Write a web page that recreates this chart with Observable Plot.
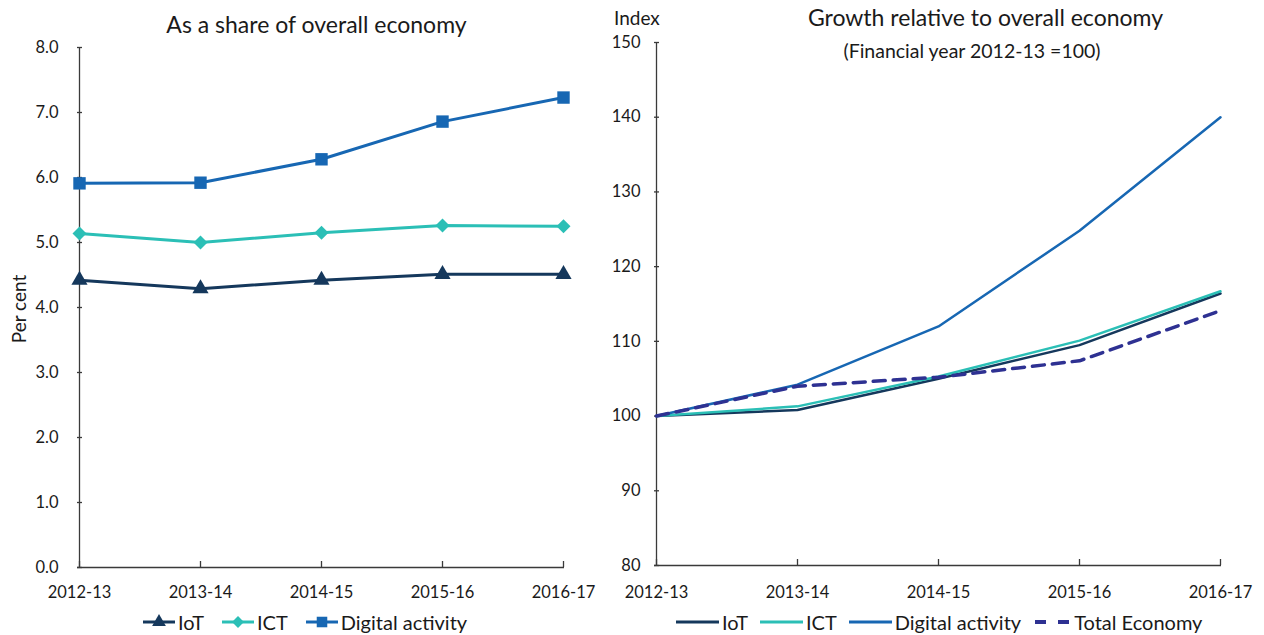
<!DOCTYPE html>
<html><head><meta charset="utf-8">
<script src="https://cdn.jsdelivr.net/npm/d3@7"></script>
<script src="https://cdn.jsdelivr.net/npm/@observablehq/plot@0.6"></script>
<style>
body{margin:0;background:#fff;font-family:Lato,"Open Sans",sans-serif;color:#1a1a1a;}
#wrap{position:relative;width:1264px;height:635px;overflow:hidden;background:#fff;}
.panel{position:absolute;top:0;}
.txt{position:absolute;white-space:nowrap;line-height:1;}
.legend{position:absolute;display:flex;align-items:center;font-size:20px;white-space:nowrap;line-height:1;}
.legend .item{display:flex;align-items:center;}
.legend svg{margin-right:3px;}
</style></head><body>
<div id="wrap">
  <div id="left" class="panel" style="left:0;width:620px"></div>
  <div id="right" class="panel" style="left:620px;width:644px"></div>
  <div class="txt" style="font-size:23px;top:13px;left:0;width:633px;text-align:center">As a share of overall economy</div>
  <div class="txt" style="font-size:23px;top:6px;left:620px;width:731px;text-align:center">Growth relative to overall economy</div>
  <div class="txt" style="font-size:19.5px;top:41px;left:620px;width:704px;text-align:center">(Financial year 2012-13 =100)</div>
  <div class="txt" style="font-size:19px;top:8px;left:614px">Index</div>
  <div class="txt" style="font-size:19px;left:18px;top:309px;transform:translate(-50%,-50%) rotate(-90deg);transform-origin:center">Per cent</div>
  <div class="legend" id="leg1" style="top:612px;left:143px"></div>
  <div class="legend" id="leg2" style="top:612px;left:676px"></div>
</div>
<script>
// ---- data ----
const years = ["2012-13", "2013-14", "2014-15", "2015-16", "2016-17"];
const shareIoT = [4.42, 4.29, 4.42, 4.51, 4.51];
const shareICT = [5.14, 5.00, 5.15, 5.26, 5.25];
const shareDigital = [5.91, 5.92, 6.28, 6.86, 7.23];
const indexIoT = [100, 100.8, 105.0, 109.5, 116.4];
const indexICT = [100, 101.3, 105.3, 110.1, 116.7];
const indexDigital = [100, 104.2, 112.0, 124.8, 140.0];
const indexTotal = [100, 104.0, 105.2, 107.4, 114.1];
const shareTicks = [0, 1, 2, 3, 4, 5, 6, 7, 8];
const indexTicks = [80, 90, 100, 110, 120, 130, 140, 150];

const colors = {IoT: "#15385c", ICT: "#2bbfb6", "Digital activity": "#1767b3", "Total Economy": "#2e3192"};
const font = 'Lato, "Open Sans", sans-serif';

const toRows = (arr, series) => arr.map((v, i) => ({year: years[i], value: v, series}));
const shareRows = [...toRows(shareIoT, "IoT"), ...toRows(shareICT, "ICT"), ...toRows(shareDigital, "Digital activity")];
const indexRows = [...toRows(indexIoT, "IoT"), ...toRows(indexICT, "ICT"), ...toRows(indexDigital, "Digital activity")];
const totalRows = toRows(indexTotal, "Total Economy");

const axisColor = "#3a3a3a";

function frameMarks(yDomainMin, yTicks, plotW, plotH) {
  return [
    Plot.ruleY([yDomainMin], {stroke: axisColor, strokeWidth: 1.3}),
    Plot.ruleX([years[0]], {stroke: axisColor, strokeWidth: 1.3}),
    Plot.tickY(yTicks, {y: d => d, insetRight: plotW - 5, stroke: axisColor, strokeWidth: 1.3}),
    Plot.tickX(years, {x: d => d, insetTop: plotH - 6, stroke: axisColor, strokeWidth: 1.3})
  ];
}

const symbols = {IoT: "triangle", ICT: "diamond2", "Digital activity": "square"};
const sizes = {IoT: 6, ICT: 6.3, "Digital activity": 7};

const L = {width: 620, height: 600, marginLeft: 77, marginRight: 56, marginTop: 47, marginBottom: 33};
const left = Plot.plot({
  ...L,
  style: {fontSize: "16.5px", fontFamily: font, color: "#1a1a1a", background: "transparent", overflow: "visible"},
  x: {type: "point", domain: years, padding: 0, label: null, tickSize: 0, tickPadding: 19},
  y: {domain: [0, 8], ticks: shareTicks, tickFormat: d3.format(".1f"), label: null, tickSize: 0, tickPadding: 19},
  marks: [
    ...frameMarks(0, shareTicks, L.width - L.marginLeft - L.marginRight, L.height - L.marginTop - L.marginBottom),
    Plot.line(shareRows, {x: "year", y: "value", z: "series", stroke: d => colors[d.series], strokeWidth: 3}),
    ...["IoT", "ICT", "Digital activity"].map(s =>
      Plot.dot(shareRows.filter(d => d.series === s), {x: "year", y: "value", symbol: () => symbols[s], r: sizes[s], fill: colors[s], stroke: "none"}))
  ]
});
document.getElementById("left").appendChild(left);

const R = {width: 644, height: 600, marginLeft: 34, marginRight: 43, marginTop: 42, marginBottom: 35};
const right = Plot.plot({
  ...R,
  style: {fontSize: "16.5px", fontFamily: font, color: "#1a1a1a", background: "transparent", overflow: "visible"},
  x: {type: "point", domain: years, padding: 0, label: null, tickSize: 0, tickPadding: 21},
  y: {domain: [80, 150], ticks: indexTicks, label: null, tickSize: 0, tickPadding: 14},
  marks: [
    ...frameMarks(80, indexTicks, R.width - R.marginLeft - R.marginRight, R.height - R.marginTop - R.marginBottom),
    Plot.line(indexRows, {x: "year", y: "value", z: "series", stroke: d => colors[d.series], strokeWidth: 2.5}),
    Plot.line(totalRows, {x: "year", y: "value", stroke: colors["Total Economy"], strokeWidth: 3.5, strokeDasharray: "12 8"})
  ]
});
document.getElementById("right").appendChild(right);

// ---- legends ----
function swatch(series, withMarker, dashed, w) {
  const c = colors[series];
  let s = `<svg width="${w}" height="16" viewBox="0 0 ${w} 16">`;
  if (dashed) {
    s += `<line x1="2" y1="8" x2="${w}" y2="8" stroke="${c}" stroke-width="4" stroke-dasharray="11 12"/>`;
  } else {
    s += `<line x1="0" y1="8" x2="${w}" y2="8" stroke="${c}" stroke-width="3"/>`;
  }
  if (withMarker) {
    const sym = {IoT: d3.symbolTriangle, ICT: d3.symbolDiamond2, "Digital activity": d3.symbolSquare}[series];
    const size = Math.PI * (sizes[series] * 0.85) ** 2;
    s += `<path transform="translate(${w / 2},8)" d="${d3.symbol(sym, size)()}" fill="${c}"/>`;
  }
  return s + `</svg>`;
}
document.getElementById("leg1").innerHTML = ["IoT", "ICT", "Digital activity"]
  .map(s => `<div class="item" style="margin-right:18px">${swatch(s, true, false, 32)}<span>${s}</span></div>`).join("");
document.getElementById("leg2").innerHTML = ["IoT", "ICT", "Digital activity", "Total Economy"]
  .map(s => `<div class="item" style="margin-right:12px">${swatch(s, false, s === "Total Economy", s === "Total Economy" ? 38 : 43)}<span>${s}</span></div>`).join("");
</script>
</body></html>
